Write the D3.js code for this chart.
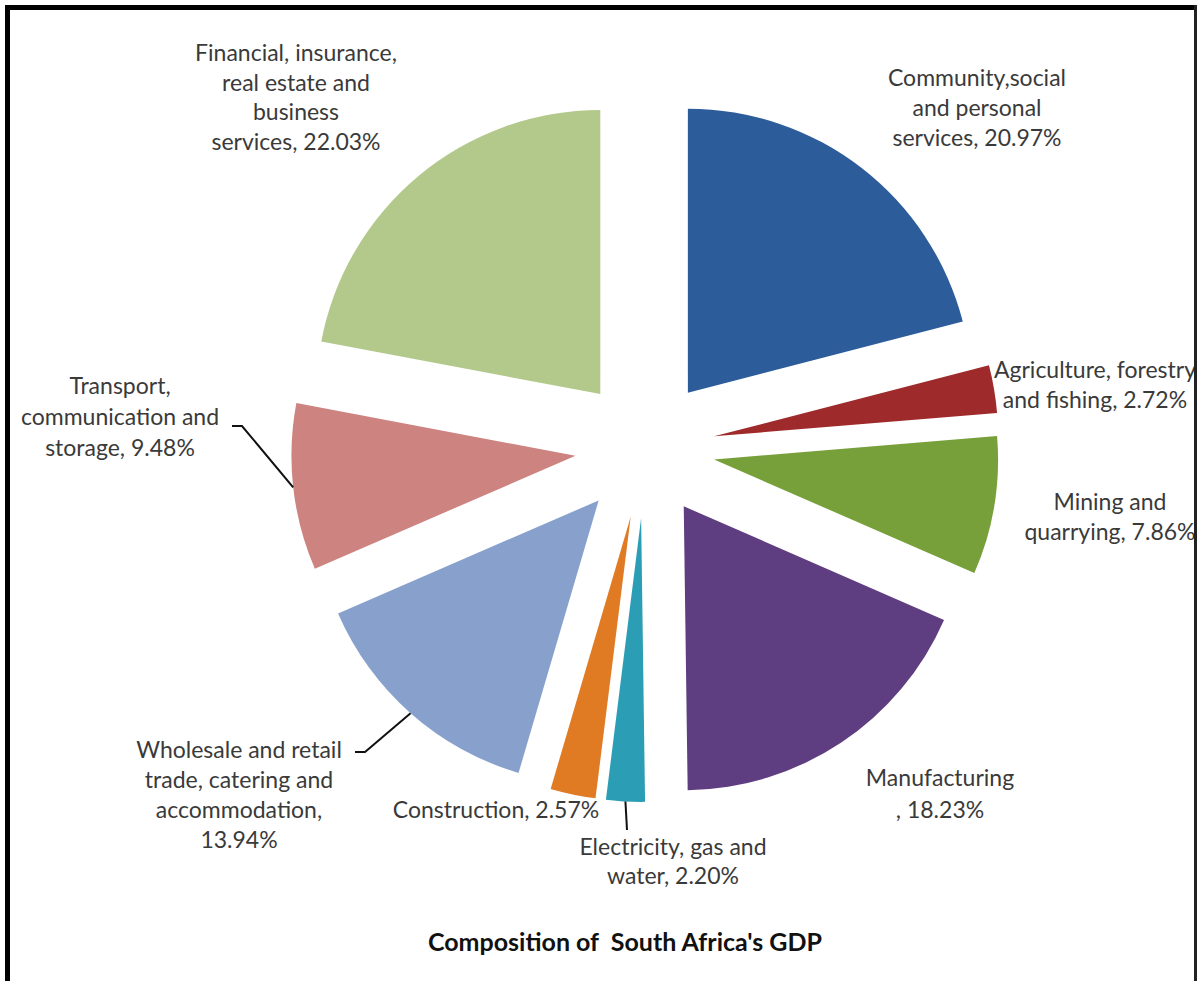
<!DOCTYPE html>
<head>
  <meta charset="utf-8">
  <title>Composition of South Africa's GDP</title>
  <script src="https://d3js.org/d3.v7.min.js"></script>
  <style>
    body { margin:0; background:#fff; }
    svg { display:block; }
    text { font-family: Lato, "Open Sans", sans-serif; }
  </style>
</head>
<body>
  <svg width="1202" height="981"></svg>
  <script>
    // sectors, clockwise from 12 o'clock
    var sectors = [
      'Community,social and personal services',
      'Agriculture, forestry and fishing',
      'Mining and quarrying',
      'Manufacturing',
      'Electricity, gas and water',
      'Construction',
      'Wholesale and retail trade, catering and accommodation',
      'Transport, communication and storage',
      'Financial, insurance, real estate and business services'
    ];
    var shares = [20.97, 2.72, 7.86, 18.23, 2.20, 2.57, 13.94, 9.48, 22.03];
    var colors = ['#2c5c9a', '#9e2a2b', '#77a03a', '#5e3e80', '#2b9db4',
                  '#e07b24', '#87a1cc', '#cd8380', '#b3c98b'];
    // label text as wrapped in the picture
    var labelLines = [
      ['Community,social', 'and personal', 'services, 20.97%'],
      ['Agriculture, forestry', 'and fishing, 2.72%'],
      ['Mining and', 'quarrying, 7.86%'],
      ['Manufacturing', ', 18.23%'],
      ['Electricity, gas and', 'water, 2.20%'],
      ['Construction, 2.57%'],
      ['Wholesale and retail', 'trade, catering and', 'accommodation,', '13.94%'],
      ['Transport,', 'communication and', 'storage, 9.48%'],
      ['Financial, insurance,', 'real estate and', 'business', 'services, 22.03%']
    ];
    var title = "Composition of  South Africa's GDP";

    var width = 1202, height = 981;
    var cx = 645, cy = 448, radius = 284, explode = 70;

    // label layout (center x, first baseline, line step, leader start points)
    var labelLayout = [
      {x: 977, y: 86, dy: 30},
      {x: 1095, y: 378, dy: 30},
      {x: 1110, y: 510, dy: 30},
      {x: 940, y: 786, dy: 32},
      {x: 673, y: 855, dy: 29, leader: [[627, 830]]},
      {x: 496, y: 818, dy: 30},
      {x: 239, y: 758, dy: 30, leader: [[355, 752], [365, 752]]},
      {x: 120, y: 394, dy: 31, leader: [[232, 426], [242, 426]]},
      {x: 296, y: 61, dy: 29.7}
    ];

    var svg = d3.select('svg');

    var pie = d3.pie().sort(null).value(d => d)(shares);
    var arc = d3.arc().innerRadius(0).outerRadius(radius);

    function mid(d) { return (d.startAngle + d.endAngle) / 2; }
    function offset(d) {
      var a = mid(d);
      return [cx + explode * Math.sin(a), cy - explode * Math.cos(a)];
    }

    svg.append('g').selectAll('path')
      .data(pie)
      .enter().append('path')
      .attr('transform', d => 'translate(' + offset(d) + ')')
      .attr('d', arc)
      .attr('fill', (d, i) => colors[i]);

    // leader lines to the outer middle of a slice
    labelLayout.forEach((l, i) => {
      if (!l.leader) return;
      var d = pie[i], o = offset(d), a = mid(d);
      var end = [o[0] + radius * Math.sin(a), o[1] - radius * Math.cos(a)];
      svg.append('path')
        .attr('d', d3.line()(l.leader.concat([end])))
        .attr('fill', 'none')
        .attr('stroke', '#111')
        .attr('stroke-width', 2);
    });

    // labels
    labelLayout.forEach((l, i) => {
      var t = svg.append('text')
        .attr('text-anchor', 'middle')
        .attr('font-size', 23)
        .attr('fill', '#3a3a3a');
      labelLines[i].forEach((s, j) => {
        t.append('tspan').attr('x', l.x).attr('y', l.y + j * l.dy).text(s);
      });
    });

    svg.append('text')
      .attr('x', 625).attr('y', 951)
      .attr('text-anchor', 'middle')
      .attr('font-size', 25)
      .attr('font-weight', 'bold')
      .attr('fill', '#111')
      .style('white-space', 'pre')
      .text(title);

    // frame
    svg.append('line').attr('x1', 5).attr('x2', 1197).attr('y1', 7.5).attr('y2', 7.5)
      .attr('stroke', '#000').attr('stroke-width', 5);
    svg.append('line').attr('x1', 7.5).attr('x2', 7.5).attr('y1', 5).attr('y2', 981)
      .attr('stroke', '#000').attr('stroke-width', 5);
    svg.append('line').attr('x1', 1195.5).attr('x2', 1195.5).attr('y1', 5).attr('y2', 981)
      .attr('stroke', '#222').attr('stroke-width', 3);
  </script>
</body>
